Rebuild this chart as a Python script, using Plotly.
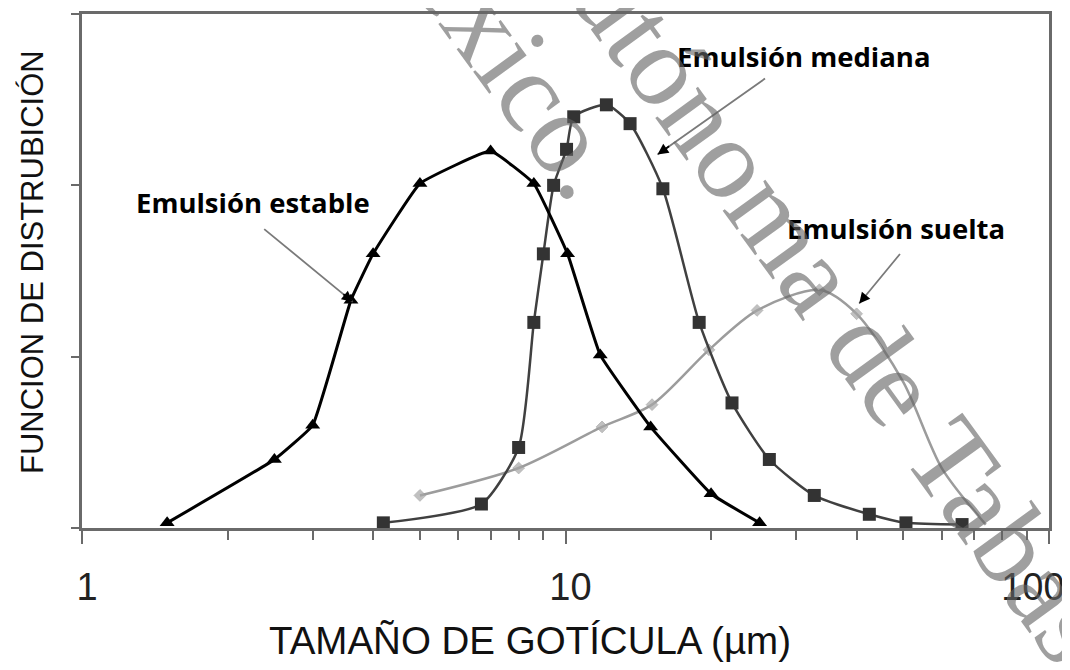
import numpy as np
import plotly.graph_objects as go

# ── datos ────────────────────────────────────────────────────────────────
estable_x = [1.5, 2.5, 3.0, 3.6, 4.0, 5.0, 7.0, 8.6, 10.1, 11.8, 15.0, 20.0, 25.2]
estable_y = [0.03, 0.40, 0.60, 1.33, 1.60, 2.01, 2.20, 2.01, 1.60, 1.01, 0.59, 0.20, 0.03]

mediana_x = [4.2, 6.7, 8.0, 8.6, 9.0, 9.45, 10.05, 10.4, 12.15, 13.6, 15.9, 18.9,
             22.1, 26.4, 32.7, 42.5, 50.6, 66.1]
mediana_y = [0.03, 0.14, 0.47, 1.20, 1.60, 2.00, 2.21, 2.40, 2.47, 2.36, 1.98, 1.20,
             0.73, 0.40, 0.19, 0.08, 0.03, 0.02]

suelta_x = [5.0, 8.0, 11.9, 15.1, 19.8, 24.9, 33.5, 40.0, 50.0, 60.0, 74.0]
suelta_y = [0.19, 0.35, 0.59, 0.72, 1.04, 1.27, 1.39, 1.25, 0.85, 0.35, 0.02]

x_major = [1, 10, 100]
x_major_text = ["1", "10", "100&nbsp;&nbsp;&nbsp;&nbsp;"]
x_minor = [2, 3, 4, 5, 6, 7, 8, 9, 20, 30, 40, 50, 60, 70, 80, 90]
y_ticks = [0, 1, 2, 3]

AXIS = "#6a6a6a"

fig = go.Figure()

fig.add_trace(go.Scatter(
    x=suelta_x, y=suelta_y, mode="lines+markers",
    line=dict(color="#9c9c9c", width=2.5, shape="spline", smoothing=0.8),
    marker=dict(symbol="diamond", color="#a6a6a6",
                size=[9 if v <= 40 else 0 for v in suelta_x]),
))
fig.add_trace(go.Scatter(
    x=mediana_x, y=mediana_y, mode="lines+markers",
    line=dict(color="#404040", width=2.5, shape="spline", smoothing=0.6),
    marker=dict(symbol="square", color="#333333", size=13),
))
fig.add_trace(go.Scatter(
    x=estable_x, y=estable_y, mode="lines+markers",
    line=dict(color="#000000", width=3, shape="spline", smoothing=0.3),
    marker=dict(symbol="triangle-up", color="#000000", size=13),
))

lbl_font = dict(family="Open Sans", size=27.5, color="#000000", weight="bold")
labels = [
    ("Emulsión estable", 0.353, 1.90),
    ("Emulsión mediana", 1.494, 2.75),
    ("Emulsión suelta", 1.684, 1.75),
]
for txt, lx, ly in labels:
    fig.add_annotation(x=lx, y=ly, text=txt, showarrow=False, font=lbl_font,
                       xanchor="center", yanchor="middle")

# flechas: (punta x, punta y, desplazamiento de la cola en px)
arrows = [
    (3.63, 1.32, -90, -74),
    (15.5, 2.18, 109, -77),
    (40.5, 1.31, 42, -51),
]
for hx, hy, ax, ay in arrows:
    fig.add_annotation(x=np.log10(hx), y=hy, ax=ax, ay=ay, text="",
                       showarrow=True, arrowhead=0, arrowwidth=1.8, arrowcolor="#7a7a7a")
    fig.add_annotation(x=np.log10(hx), y=hy, ax=ax * 0.12, ay=ay * 0.12, text="",
                       showarrow=True, arrowhead=2, arrowsize=1.2, arrowwidth=1.8,
                       arrowcolor="#000000")

# títulos de ejes
fig.add_annotation(xref="paper", yref="paper", x=(530 - 82) / 967, y=-(640 - 528) / 514,
                   text="TAMAÑO DE GOTÍCULA (µm)", showarrow=False,
                   xanchor="center", yanchor="middle",
                   font=dict(family="Liberation Sans", size=38.5, color="#111111"))
fig.add_annotation(xref="paper", yref="paper", x=-(82 - 33) / 967, y=(528 - 262) / 514,
                   text="FUNCION DE DISTRUBICIÓN", showarrow=False, textangle=-90,
                   xanchor="center", yanchor="middle",
                   font=dict(family="Liberation Sans", size=31, color="#111111"))

# marca de agua
wm_font = dict(family="Liberation Serif", size=115, color="rgba(100,100,100,0.62)")
fig.add_annotation(xref="paper", yref="paper", x=(851 - 82) / 967, y=(528 - 321) / 514,
                   text="Autónoma de Tabasco", showarrow=False, textangle=54,
                   xanchor="center", yanchor="middle", font=wm_font)
fig.add_annotation(xref="paper", yref="paper", x=(491 - 82) / 967, y=(528 - 30) / 514,
                   text="México.", showarrow=False, textangle=54,
                   xanchor="center", yanchor="middle", font=wm_font)

fig.update_xaxes(
    type="log", range=[0, 2], automargin=False,
    tickvals=x_major, ticktext=x_major_text,
    ticks="outside", ticklen=13, tickwidth=2, tickcolor=AXIS,
    minor=dict(tickvals=x_minor, ticks="outside", ticklen=9, tickwidth=2, tickcolor=AXIS),
    showline=True, linewidth=2.5, linecolor=AXIS, mirror=True,
    showgrid=False, zeroline=False,
    tickfont=dict(family="Liberation Sans", size=38, color="#222222"),
    ticklabelstandoff=11, ticklabelshift=5, ticklabeloverflow="allow",
)
fig.update_yaxes(
    range=[0, 3], tickvals=y_ticks, showticklabels=False, automargin=False,
    ticks="outside", ticklen=8, tickwidth=2, tickcolor=AXIS,
    showline=True, linewidth=2.5, linecolor=AXIS, mirror=True,
    showgrid=False, zeroline=False,
)

# la página añade 8 px de margen al cuerpo: se descuentan aquí
fig.update_layout(
    width=1062, height=662,
    margin=dict(l=74, r=21, t=6, b=142, autoexpand=False),
    plot_bgcolor="white", paper_bgcolor="white",
    showlegend=False,
)

fig.write_html("out.html")
